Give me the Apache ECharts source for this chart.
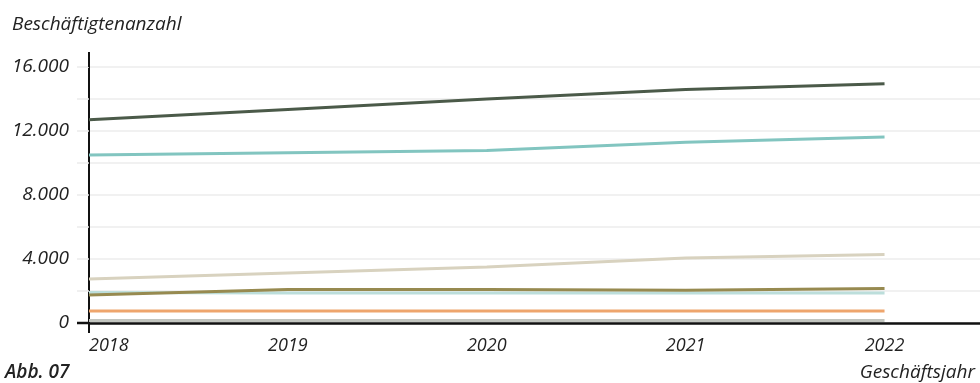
<!DOCTYPE html>
<html lang="de">
<head>
<meta charset="UTF-8">
<title>Beschäftigtenanzahl</title>
<script src="https://cdn.jsdelivr.net/npm/echarts@6/dist/echarts.min.js"></script>
<style>
    html, body { margin: 0; padding: 0; background: #fff; }
    #chart { width: 980px; height: 383px; }
</style>
</head>
<body>
<div id="chart"></div>
<script>
    // Geschäftsjahre
    var years = [2018, 2019, 2020, 2021, 2022];

    // Beschäftigte je Reihe (geschätzt aus der Grafik)
    var reiheDunkel = [12700, 13350, 14000, 14600, 14950];
    var reiheTuerkis = [10500, 10640, 10780, 11300, 11620];
    var reiheBeige = [2750, 3120, 3500, 4060, 4280];
    var reiheOliv = [1750, 2100, 2100, 2050, 2150];
    var reiheHellTuerkis = [1900, 1880, 1880, 1880, 1880];
    var reiheOrange = [750, 750, 750, 750, 750];
    var reiheGrau = [150, 150, 150, 150, 150];

    var font = '"Open Sans", "Noto Sans", sans-serif';

    function pairs(vals) {
        var out = [];
        for (var i = 0; i < years.length; i++) {
            out.push([years[i], vals[i]]);
        }
        return out;
    }

    function linie(name, vals, color, z) {
        return {
            name: name,
            type: 'line',
            data: pairs(vals),
            symbol: 'none',
            z: z,
            lineStyle: { color: color, width: 3 },
            itemStyle: { color: color }
        };
    }

    var chart = echarts.init(document.getElementById('chart'));

    chart.setOption({
        animation: false,
        grid: { left: 89, right: 0, top: 67, bottom: 60 },
        title: [
            {
                text: 'Beschäftigtenanzahl',
                left: 7, top: 10,
                textStyle: { fontFamily: font, fontStyle: 'italic', fontWeight: 'normal', fontSize: 19, color: '#222' }
            },
            {
                text: 'Abb. 07',
                left: 0, top: 358,
                textStyle: { fontFamily: font, fontStyle: 'italic', fontWeight: 600, fontSize: 19, color: '#222' }
            },
            {
                text: 'Geschäftsjahr',
                right: 0, top: 358,
                textStyle: { fontFamily: font, fontStyle: 'italic', fontWeight: 'normal', fontSize: 19, color: '#222' }
            }
        ],
        xAxis: {
            type: 'value',
            min: 2018,
            max: 2022.48,
            interval: 1,
            splitLine: { show: false },
            axisTick: { show: false },
            axisLine: { show: true, lineStyle: { color: '#111', width: 2.5 } },
            axisLabel: {
                margin: 14,
                fontFamily: font, fontStyle: 'italic', fontSize: 18, color: '#222',
                showMaxLabel: false,
                alignMinLabel: 'left',
                formatter: function (v) { return Number.isInteger(v) ? String(v) : ''; }
            }
        },
        yAxis: {
            type: 'value',
            min: 0,
            max: 16000,
            interval: 2000,
            axisLine: { show: true, lineStyle: { color: '#111', width: 2 } },
            axisTick: { show: true, length: 12, lineStyle: { color: '#ececec', width: 1.5 } },
            splitLine: { show: true, lineStyle: { color: '#ececec', width: 1.5 } },
            axisLabel: {
                margin: 20,
                fontFamily: font, fontStyle: 'italic', fontSize: 19, color: '#222',
                formatter: function (v) {
                    if (v % 4000 !== 0) return '';
                    return v.toLocaleString('de-DE');
                }
            }
        },
        series: [
            linie('Grau', reiheGrau, '#c2c5bf', 2),
            linie('Orange', reiheOrange, '#eea56d', 3),
            linie('Helltürkis', reiheHellTuerkis, '#bcdedb', 4),
            linie('Oliv', reiheOliv, '#978a50', 5),
            linie('Beige', reiheBeige, '#d8d2bf', 6),
            linie('Türkis', reiheTuerkis, '#82c5c0', 7),
            linie('Dunkel', reiheDunkel, '#4b5a49', 8)
        ]
    });

    // Achsenkreuz: x-Achse nach links, y-Achse nach unten und oben verlängern
    var nullPunkt = chart.convertToPixel({ gridIndex: 0 }, [2018, 0]);
    var oben = chart.convertToPixel({ gridIndex: 0 }, [2018, 16000]);
    chart.setOption({
        graphic: [
            {
                type: 'line', z: 50,
                shape: { x1: nullPunkt[0] - 12, y1: nullPunkt[1], x2: nullPunkt[0], y2: nullPunkt[1] },
                style: { stroke: '#111', lineWidth: 2.5 }
            },
            {
                type: 'line', z: 50,
                shape: { x1: nullPunkt[0], y1: nullPunkt[1], x2: nullPunkt[0], y2: nullPunkt[1] + 10 },
                style: { stroke: '#111', lineWidth: 2 }
            },
            {
                type: 'line', z: 50,
                shape: { x1: oben[0], y1: oben[1] - 15, x2: oben[0], y2: oben[1] },
                style: { stroke: '#111', lineWidth: 2 }
            }
        ]
    });
</script>
</body>
</html>
